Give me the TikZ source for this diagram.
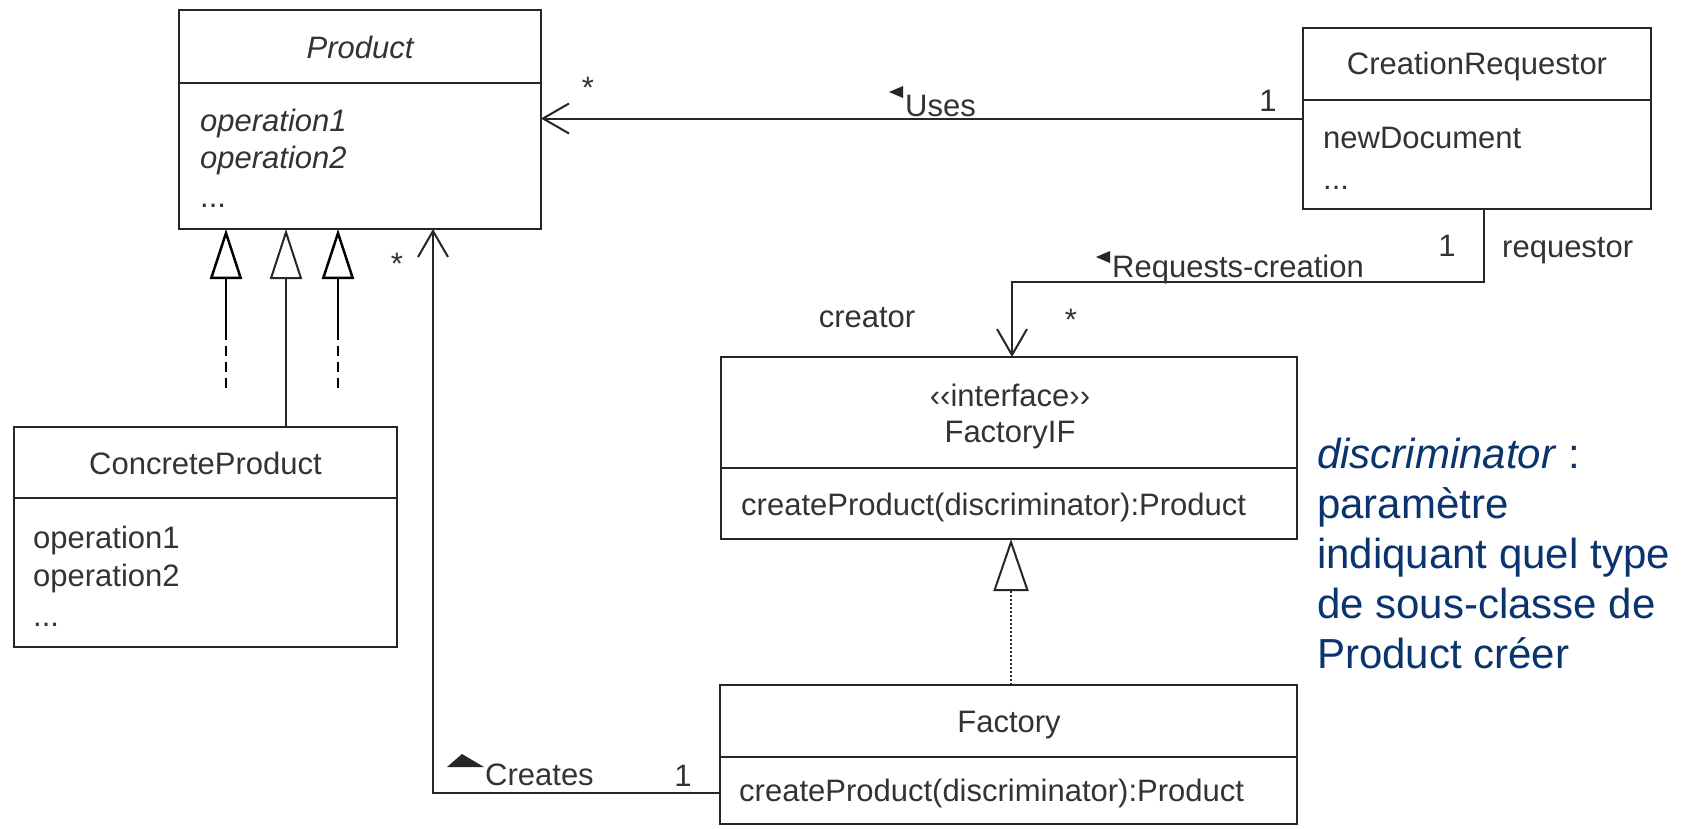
\documentclass[tikz,border=0pt]{standalone}
\usepackage{fontspec}
\setmainfont{Liberation Sans}
\usetikzlibrary{arrows.meta}
\definecolor{ink}{HTML}{262626}
\definecolor{txt}{HTML}{333333}
\definecolor{note}{RGB}{10,52,110}
\begin{document}
\begin{tikzpicture}[x=1pt,y=-1pt,
  every node/.style={font=\fontsize{31}{37}\selectfont, text=txt},
  classbox/.style={draw=ink, line width=2pt, inner sep=0pt, outer sep=0pt, fill=white},
  divider/.style={draw=ink, line width=2pt},
  txtlbl/.style={inner sep=0pt, text height=22pt, text depth=0pt},
  nav/.style={draw=ink, line width=2pt, -{Straight Barb[length=26pt,width=30pt]}},
  gen/.style={draw=ink, line width=2pt, -{Triangle[open,length=50pt,width=32pt]}},
  genblack/.style={draw=black, line width=2.5pt, -{Triangle[open,length=50pt,width=32pt]}},
  stubdash/.style={draw=black, line width=2.5pt, dash pattern=on 10pt off 6pt},
  realize/.style={draw=ink, line width=2pt, dash pattern=on 2pt off 2pt,
    -{Triangle[open,length=52pt,width=35pt]}},
  rolemark/.style={fill=ink}
]
% page
\fill[white] (0,0) rectangle (1681,828);
\useasboundingbox (0,0) rectangle (1681,828);

% ---------- Product ----------
\node[classbox, minimum width=362pt, minimum height=219pt] (product) at (360,119.5) {};
\draw[divider] (product.west |- 0,83) -- (product.east |- 0,83);
\node[txtlbl] (productname) at (360,47) {\itshape Product};
\node[txtlbl, anchor=west] (productop1) at (200,120) {\itshape operation1};
\node[txtlbl, anchor=west] (productop2) at (200,157) {\itshape operation2};
\node[txtlbl, anchor=west] (productmore) at (200,196) {...};

% ---------- CreationRequestor ----------
\node[classbox, minimum width=348pt, minimum height=181pt] (creq) at (1477,118.5) {};
\draw[divider] (creq.west |- 0,100) -- (creq.east |- 0,100);
\node[txtlbl] (creqname) at (1477,63) {CreationRequestor};
\node[txtlbl, anchor=west] (creqop1) at (1323,137) {newDocument};
\node[txtlbl, anchor=west] (creqmore) at (1323,178) {...};

% ---------- ConcreteProduct ----------
\node[classbox, minimum width=383pt, minimum height=220pt] (concrete) at (205.5,537) {};
\draw[divider] (concrete.west |- 0,498) -- (concrete.east |- 0,498);
\node[txtlbl] (concretename) at (205.5,463) {ConcreteProduct};
\node[txtlbl, anchor=west] (concreteop1) at (33,537) {operation1};
\node[txtlbl, anchor=west] (concreteop2) at (33,575) {operation2};
\node[txtlbl, anchor=west] (concretemore) at (33,615) {...};

% ---------- FactoryIF ----------
\node[classbox, minimum width=576pt, minimum height=182pt] (fif) at (1009,448) {};
\draw[divider] (fif.west |- 0,468) -- (fif.east |- 0,468);
\node[txtlbl] (fifstereo) at (1010,395) {‹‹interface››};
\node[txtlbl] (fifname) at (1010,431) {FactoryIF};
\node[txtlbl, anchor=west] (fifop) at (741,504) {createProduct(discriminator):Product};

% ---------- Factory ----------
\node[classbox, minimum width=577pt, minimum height=139pt] (factory) at (1008.5,754.5) {};
\draw[divider] (factory.west |- 0,757) -- (factory.east |- 0,757);
\node[txtlbl] (factoryname) at (1009,721) {Factory};
\node[txtlbl, anchor=west] (factoryop) at (739,790) {createProduct(discriminator):Product};

% ---------- associations ----------
% Uses
\draw[nav] (creq.west) -- (creq.west -| product.east);
\node[txtlbl] (usesstar) at (588,87) {*};
\node[txtlbl, anchor=west] (uses) at (905,105) {Uses};
\fill[rolemark] (903,86) -- (889,92) -- (903,98) -- cycle;
\node[txtlbl] (usesone) at (1268,100) {1};

% Requests-creation
\draw[nav] ([xshift=7pt]creq.south) -- ++(0,73) -| ([xshift=3pt]fif.north);
\node[txtlbl] (reqone) at (1447,245) {1};
\node[txtlbl, anchor=west] (reqrole) at (1502,246) {requestor};
\node[txtlbl, anchor=west] (reqname) at (1112,266) {Requests-creation};
\fill[rolemark] (1110,251) -- (1096,257) -- (1110,263) -- cycle;
\node[txtlbl] (reqstar) at (1071,319) {*};
\node[txtlbl] (creator) at (867,316) {creator};

% Creates
\draw[nav] ([yshift=-38.5pt]factory.west) -| ([xshift=73pt]product.south);
\node[txtlbl] (createsstar) at (397,263) {*};
\node[txtlbl, anchor=west] (creates) at (485,774) {Creates};
\fill[rolemark] (447,767) -- (462,754) -- (484,767) -- cycle;
\node[txtlbl] (createsone) at (683,775) {1};

% ---------- generalisation ----------
\draw[gen] ([xshift=80.5pt]concrete.north) -- ([xshift=-74pt]product.south);
\coordinate (stubA) at (226,388);
\coordinate (stubAmid) at (226,333);
\coordinate (stubB) at (338,388);
\coordinate (stubBmid) at (338,333);
\draw[stubdash] (stubA) -- (stubAmid);
\draw[genblack] (stubAmid) -- (stubAmid |- product.south);
\draw[stubdash] (stubB) -- (stubBmid);
\draw[genblack] (stubBmid) -- (stubBmid |- product.south);

% ---------- realisation ----------
\draw[realize] ([xshift=2.5pt]factory.north) -- ([xshift=2pt]fif.south);

% ---------- note ----------
\node[anchor=north west, inner sep=0pt, align=left, text=note,
  font=\fontsize{42}{50}\selectfont] (note) at (1317,438)
  {\textit{discriminator} :\\paramètre\\indiquant quel type\\de sous-classe de\\Product créer};
\end{tikzpicture}
\end{document}
